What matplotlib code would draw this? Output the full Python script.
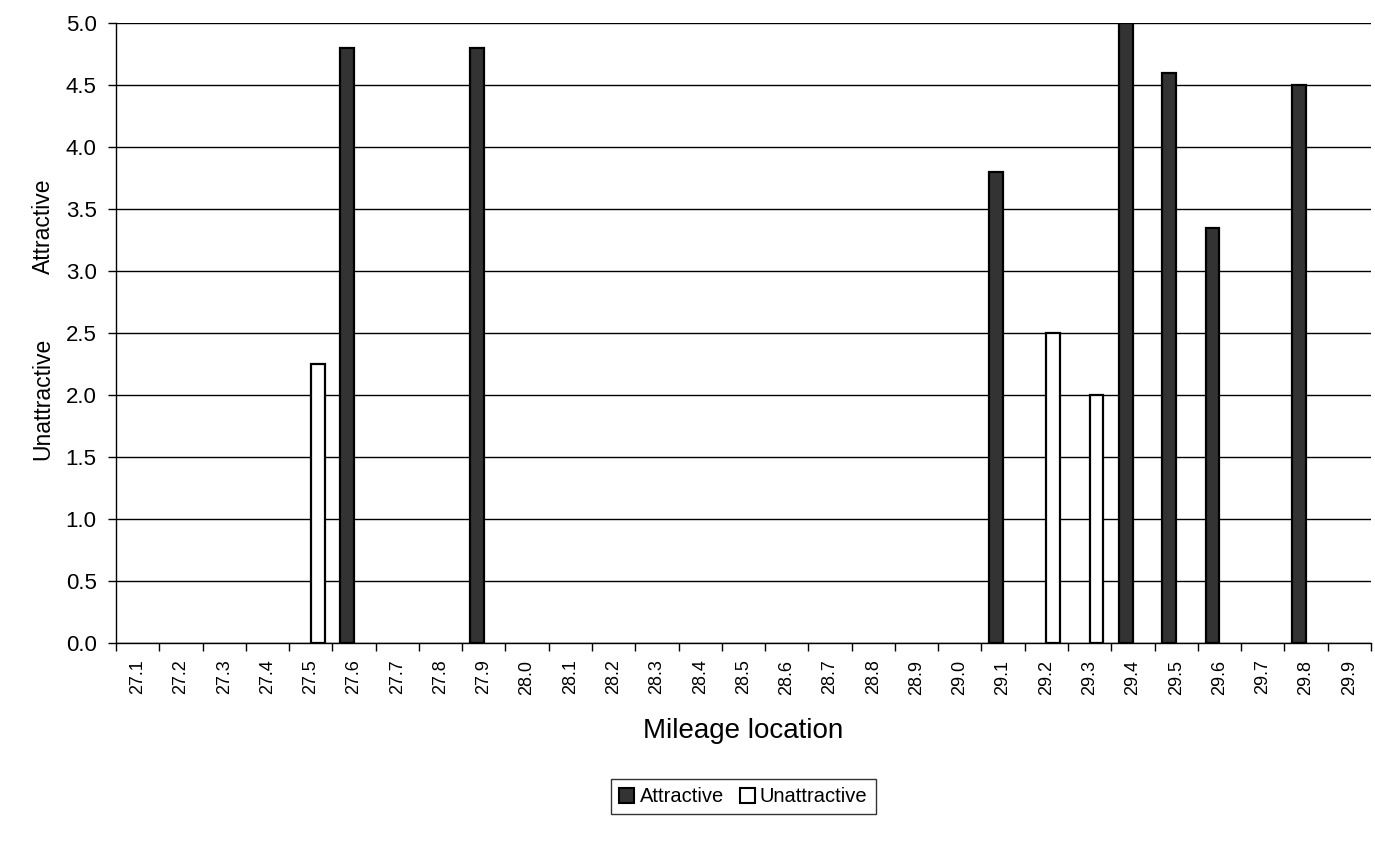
import numpy as np
import matplotlib.pyplot as plt
from matplotlib.patches import Patch

plt.rcParams['font.family'] = ['Liberation Sans', 'DejaVu Sans']

# mileage points along the route
miles = ['27.1', '27.2', '27.3', '27.4', '27.5', '27.6', '27.7', '27.8', '27.9',
         '28.0', '28.1', '28.2', '28.3', '28.4', '28.5', '28.6', '28.7', '28.8',
         '28.9', '29.0', '29.1', '29.2', '29.3', '29.4', '29.5', '29.6', '29.7',
         '29.8', '29.9']
attractive = [0, 0, 0, 0, 0, 4.8, 0, 0, 4.8,
              0, 0, 0, 0, 0, 0, 0, 0, 0,
              0, 0, 3.8, 0, 0, 5.0, 4.6, 3.35, 0,
              4.5, 0]
unattractive = [0, 0, 0, 0, 2.25, 0, 0, 0, 0,
                0, 0, 0, 0, 0, 0, 0, 0, 0,
                0, 0, 0, 2.5, 2.0, 0, 0, 0, 0,
                0, 0]


def draw_bars(ax, x, vals, offset, width, color):
    for xi, v in zip(x, vals):
        if v > 0:
            ax.bar(xi + offset, v, width, color=color, edgecolor='black',
                   linewidth=1.6, zorder=3)


def main():
    fig = plt.figure(figsize=(13.75, 8.47), dpi=100)
    ax = fig.add_axes([0.0844, 0.2409, 0.9126, 0.7319])

    x = np.arange(len(miles))
    w = 0.32
    draw_bars(ax, x, attractive, -w / 2, w, '#333333')
    draw_bars(ax, x, unattractive, w / 2, w, 'white')

    ax.set_xlim(-0.5, len(miles) - 0.5)
    ax.set_ylim(0, 5.0)
    ax.set_yticks(np.arange(0, 5.01, 0.5))
    ax.set_yticklabels(['{:.1f}'.format(v) for v in np.arange(0, 5.01, 0.5)],
                       fontsize=16)
    ax.yaxis.grid(True, color='black', linewidth=1.0, zorder=0)
    ax.set_axisbelow(True)

    # tick marks between categories, labels at category centres
    ax.set_xticks(np.arange(-0.5, len(miles), 1.0))
    ax.set_xticklabels([])
    ax.set_xticks(x, minor=True)
    ax.set_xticklabels(miles, minor=True, rotation=90, fontsize=13)
    ax.tick_params(axis='x', which='minor', length=0, pad=12)
    ax.tick_params(axis='x', which='major', length=6, width=1)
    ax.tick_params(axis='y', length=6, width=1, pad=8)

    for s in ['top', 'right']:
        ax.spines[s].set_visible(False)
    ax.spines['left'].set_linewidth(1.0)
    ax.spines['bottom'].set_linewidth(1.0)

    ax.set_xlabel('Mileage location', fontsize=20, labelpad=17)
    fig.text(0.0313, 0.733, 'Attractive', rotation=90, ha='center', va='center',
             fontsize=16.5)
    fig.text(0.0313, 0.529, 'Unattractive', rotation=90, ha='center', va='center',
             fontsize=16.5)

    handles = [Patch(facecolor='#333333', edgecolor='black', linewidth=1.5, label='Attractive'),
               Patch(facecolor='white', edgecolor='black', linewidth=1.5, label='Unattractive')]
    leg = fig.legend(handles=handles, loc='center', bbox_to_anchor=(0.5407, 0.0592),
                     ncol=2, frameon=True, fontsize=14.5, handlelength=0.75,
                     handleheight=0.75, handletextpad=0.25, columnspacing=0.8,
                     borderpad=0.4, borderaxespad=0, fancybox=False,
                     edgecolor='black')
    leg.get_frame().set_linewidth(1.0)

    fig.savefig('out.png', dpi=100)


if __name__ == '__main__':
    main()
